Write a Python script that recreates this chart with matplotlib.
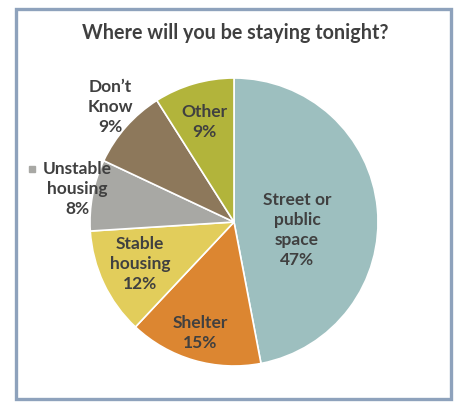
import matplotlib.pyplot as plt
from matplotlib.patches import Rectangle

# valores (sentido horário a partir do topo)
categorias = ["Street or\npublic\nspace", "Shelter", "Stable\nhousing",
              "Unstable\nhousing", "Don\u2019t\nKnow", "Other"]
valores = [47, 15, 12, 8, 9, 9]
cores = ["#9dbfbf", "#dc8631", "#e2cd5b", "#a8a8a4", "#8d785b", "#b2b43b"]

W, H = 456, 403
TXT = "#404040"
plt.rcParams["font.family"] = ["Lato", "DejaVu Sans"]

fig = plt.figure(figsize=(W / 100, H / 100), dpi=100)
ax = fig.add_axes([0, 0, 1, 1])

# moldura
ax.add_patch(Rectangle((16, H - 399), 435, 390, fill=False,
                       edgecolor="#8ea2bc", lw=2.4))

ax.pie(valores, colors=cores, startangle=90, counterclock=False,
       center=(234, H - 222), radius=144,
       wedgeprops=dict(edgecolor="white", linewidth=1.2))
ax.set_xlim(0, W)
ax.set_ylim(0, H)
ax.set_aspect("equal")
ax.axis("off")

ax.text(235, H - 33, "Where will you be staying tonight?", ha="center",
        va="center", fontsize=14.2, fontweight="bold", color=TXT)

# rótulos: (x, y do centro do bloco)
posicoes = [(297, 230), (200, 333), (140, 264), (77, 189), (110, 107), (204, 122)]
fs = 12.5
for cat, val, (x, y) in zip(categorias, valores, posicoes):
    ax.text(x, H - y, f"{cat}\n{val}%", ha="center", va="center",
            fontsize=fs, fontweight="bold", color=TXT, linespacing=1.3)

# marcador da legenda ao lado de "Unstable"
ax.add_patch(Rectangle((29, H - 172), 6, 6, color="#a8a8a4"))

fig.savefig("out.png", dpi=100)
